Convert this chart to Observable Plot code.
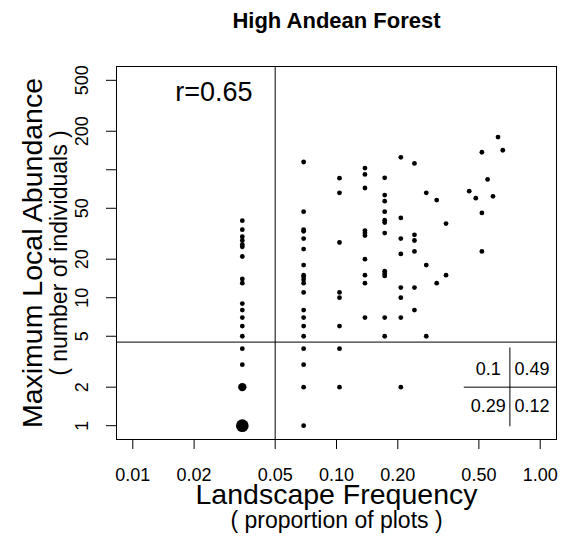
<!DOCTYPE html>
<html>
<head>
<meta charset="utf-8">
<script src="https://cdn.jsdelivr.net/npm/d3@7"></script>
<script src="https://cdn.jsdelivr.net/npm/@observablehq/plot@0.6"></script>
<style>
  html, body { margin: 0; padding: 0; background: #fff; }
  svg { display: block; }
</style>
</head>
<body>
<div id="chart"></div>
<script>
// ---- text ----
const chartTitle = "High Andean Forest";
const xTitle = "Landscape Frequency";
const xSubtitle = "( proportion of plots )";
const yTitle = "Maximum Local Abundance";
const ySubtitle = "( number of individuals )";
const corrLabel = "r=0.65";
const corrAt = [0.025, 400];

// ---- axes ----
const xLim = [0.01, 1];
const yLim = [1, 500];
const xTicks = [0.01, 0.02, 0.05, 0.10, 0.20, 0.50, 1.00];
const xTickLabels = ["0.01", "0.02", "0.05", "0.10", "0.20", "0.50", "1.00"];
const yTicks = [1, 2, 5, 10, 20, 50, 100, 200, 500];
const yTickLabels = ["1", "2", "5", "10", "20", "50", "", "200", "500"];

// ---- thresholds ----
const xCut = 0.05;
const yCut = 4.5;

// ---- data: species by number of plots occupied (of 29) ----
const totalPlots = 29;
const plotsOccupied = [1, 2, 3, 4, 5, 6, 7, 8, 9, 10, 13, 14, 15, 16, 17, 18, 19];
const maxAbundance = [
  [40, 34, 30, 28, 26, 25, 21, 14, 13, 9, 8, 7, 6, 5, 4, 3, 2, 1],
  [115, 47, 34, 33, 29, 24, 18, 15, 14.5, 13.8, 13, 11, 8, 7, 6, 5, 4, 3, 2, 1],
  [86, 66, 27, 11, 10, 6, 4, 2],
  [103, 92, 72, 33.5, 32, 30.6, 20, 15, 13, 7],
  [86.5, 63.4, 56.8, 47, 40.4, 38.7, 32, 16.1, 15.4, 14.8, 7, 5],
  [125, 42, 29, 22, 12, 10, 7, 2],
  [112, 31, 28, 23, 12, 8],
  [66, 18, 5],
  [58, 13],
  [38, 15],
  [68],
  [60],
  [137, 46, 23],
  [84],
  [62],
  [180],
  [142]
];
// points that stand for several species
const overlapPlots = [1, 1];
const overlapAbundance = [2, 1];
const overlapCount = [3, 7];

// ---- quadrant proportions inset ----
const insetValues = ["0.1", "0.49", "0.29", "0.12"];
const insetX = [0.556, 0.912, 0.556, 0.912];
const insetY = [2.74, 2.74, 1.41, 1.41];
const insetColSplit = 0.71;
const insetColRange = [0.98, 4.05];
const insetRowSplit = 2;
const insetRowStart = 0.424;

// ---- build ----
const W = 574, H = 536;
const frameBox = {left: 116, right: 556, top: 66, bottom: 439};
const extend = (lim) => {
  const a = Math.log10(lim[0]), b = Math.log10(lim[1]), d = 0.04 * (b - a);
  return [Math.pow(10, a - d), Math.pow(10, b + d)];
};
const xDomain = extend(xLim);
const yDomain = extend(yLim);

const points = [];
plotsOccupied.forEach((k, i) => {
  maxAbundance[i].forEach((v) => {
    const oi = overlapPlots.findIndex((p, j) => p === k && overlapAbundance[j] === v);
    points.push({freq: k / totalPlots, abundance: v, count: oi >= 0 ? overlapCount[oi] : 1});
  });
});

const font = "'Liberation Sans', Arial, Helvetica, sans-serif";

const chart = Plot.plot({
  width: W,
  height: H,
  marginLeft: frameBox.left,
  marginRight: W - frameBox.right,
  marginTop: frameBox.top,
  marginBottom: H - frameBox.bottom,
  style: {fontFamily: font, fontSize: "18px", color: "black", background: "white", overflow: "visible"},
  x: {type: "log", domain: xDomain, axis: null},
  y: {type: "log", domain: yDomain, axis: null},
  r: {type: "sqrt", domain: [0, 1], range: [0, 2.4]},
  marks: [
    Plot.ruleX([xCut], {stroke: "black"}),
    Plot.ruleY([yCut], {stroke: "black"}),
    Plot.ruleY([insetRowSplit], {x1: insetRowStart, x2: xDomain[1], stroke: "black"}),
    Plot.ruleX([insetColSplit], {y1: insetColRange[0], y2: insetColRange[1], stroke: "black"}),
    Plot.text(insetValues, {
      x: (d, i) => insetX[i], y: (d, i) => insetY[i], text: (d) => d,
      fontSize: 18, textAnchor: "middle", lineAnchor: "middle", fill: "black"
    }),
    Plot.dot(points, {x: "freq", y: "abundance", r: "count", fill: "black", stroke: null}),
    Plot.text([corrLabel], {
      x: corrAt[0], y: corrAt[1], text: (d) => d, fontSize: 27,
      textAnchor: "middle", lineAnchor: "middle", fill: "black"
    }),
    Plot.axisX(xTicks, {tickSize: 10, fill: "none", label: null, stroke: "black"}),
    Plot.axisY(yTicks, {tickSize: 10, fill: "none", label: null, stroke: "black"}),
    Plot.text(xTicks, {
      x: (d) => d, text: (d, i) => xTickLabels[i], frameAnchor: "bottom",
      dy: 41, lineAnchor: "bottom", textAnchor: "middle", fontSize: 18, fill: "black"
    }),
    Plot.text(yTicks, {
      y: (d) => d, text: (d, i) => yTickLabels[i], frameAnchor: "left",
      dx: -29, rotate: -90, lineAnchor: "bottom", textAnchor: "middle", fontSize: 18, fill: "black"
    }),
    Plot.text([chartTitle], {
      text: (d) => d, frameAnchor: "top", dy: -39, lineAnchor: "bottom",
      textAnchor: "middle", fontSize: 22, fontWeight: "bold", fill: "black"
    }),
    Plot.text([xTitle], {
      text: (d) => d, frameAnchor: "bottom", dy: 64.5, lineAnchor: "bottom",
      textAnchor: "middle", fontSize: 28.5, fill: "black"
    }),
    Plot.text([xSubtitle], {
      text: (d) => d, frameAnchor: "bottom", dy: 88, lineAnchor: "bottom",
      textAnchor: "middle", fontSize: 23, fill: "black"
    }),
    Plot.text([yTitle], {
      text: (d) => d, frameAnchor: "left", dx: -75, rotate: -90, lineAnchor: "bottom",
      textAnchor: "middle", fontSize: 28.5, fill: "black"
    }),
    Plot.text([ySubtitle], {
      text: (d) => d, frameAnchor: "left", dx: -50, rotate: -90, lineAnchor: "bottom",
      textAnchor: "middle", fontSize: 23, fill: "black"
    }),
    Plot.frame({stroke: "black"})
  ]
});

document.getElementById("chart").appendChild(chart);
</script>
</body>
</html>
